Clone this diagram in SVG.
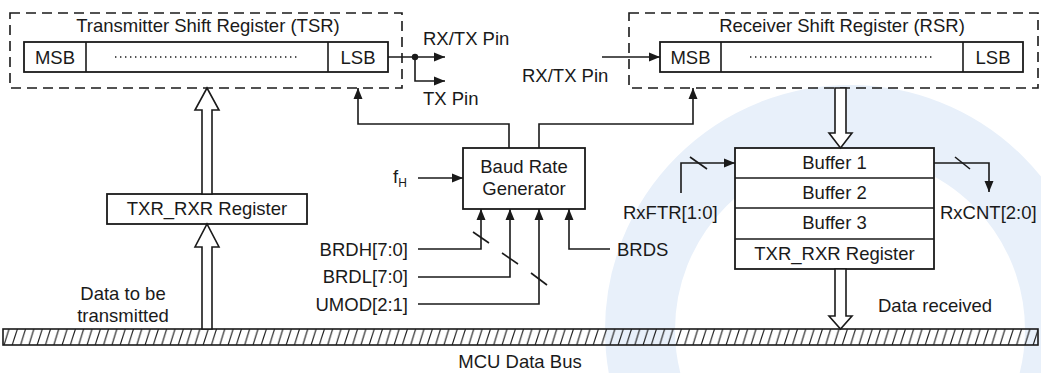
<svg xmlns="http://www.w3.org/2000/svg" width="1041" height="373" viewBox="0 0 1041 373">
<style>
text{font-family:"Liberation Sans",Arial,sans-serif;font-size:18.5px;fill:#1a1a1a}
.m{text-anchor:middle}
.e{text-anchor:end}
.ln{fill:none;stroke:#1a1a1a;stroke-width:1.6}
.box{fill:#fff;stroke:#1a1a1a;stroke-width:1.8}
.dash{fill:none;stroke:#1a1a1a;stroke-width:1.6;stroke-dasharray:10 6}
.dots{stroke:#1a1a1a;stroke-width:1.4;stroke-dasharray:1.4 3.6}
.hol{fill:#fff;stroke:#1a1a1a;stroke-width:1.6;stroke-linejoin:miter}
.arr{marker-end:url(#ah)}
.wm{fill:none;stroke:#e8f0fa}
</style>
<defs>
<marker id="ah" markerUnits="userSpaceOnUse" markerWidth="11" markerHeight="10" refX="11" refY="5" orient="auto">
<path d="M0,0.5 L11,5 L0,9.5 z" fill="#1a1a1a"/>
</marker>
<pattern id="hatch" patternUnits="userSpaceOnUse" width="8.3" height="16" x="3" y="329">
<line x1="1" y1="16" x2="6" y2="0" stroke="#1a1a1a" stroke-width="1.1"/>
</pattern>
</defs>
<g id="watermark">
<circle class="wm" cx="850" cy="330" r="210" stroke-width="70"/>
</g>
<g id="tsr">
<rect class="dash" x="10" y="13" width="392" height="75"/>
<text class="m" x="208" y="32">Transmitter Shift Register (TSR)</text>
<rect class="box" x="24" y="42" width="364" height="30"/>
<line class="ln" x1="86" y1="42" x2="86" y2="72"/>
<line class="ln" x1="328" y1="42" x2="328" y2="72"/>
<line class="dots" x1="115" y1="57" x2="298" y2="57"/>
<text class="m" x="55" y="64">MSB</text>
<text class="m" x="358" y="64">LSB</text>
</g>
<g id="rsr">
<rect class="dash" x="629" y="13" width="409" height="75"/>
<text class="m" x="842" y="32">Receiver Shift Register (RSR)</text>
<rect class="box" x="660" y="42" width="363" height="30"/>
<line class="ln" x1="721" y1="42" x2="721" y2="72"/>
<line class="ln" x1="963" y1="42" x2="963" y2="72"/>
<line class="dots" x1="750" y1="57" x2="934" y2="57"/>
<text class="m" x="690.5" y="64">MSB</text>
<text class="m" x="993" y="64">LSB</text>
</g>
<g id="brg">
<rect class="box" x="463" y="148" width="122" height="61"/>
<text class="m" x="524" y="173">Baud Rate</text>
<text class="m" x="524" y="195">Generator</text>
</g>
<g id="txr-left">
<rect class="box" x="107" y="194" width="200" height="30"/>
<text class="m" x="207" y="215">TXR_RXR Register</text>
</g>
<g id="buffers">
<rect class="box" x="735" y="148" width="199" height="121"/>
<line class="ln" x1="735" y1="178" x2="934" y2="178"/>
<line class="ln" x1="735" y1="208" x2="934" y2="208"/>
<line class="ln" x1="735" y1="239" x2="934" y2="239"/>
<text class="m" x="834.5" y="169">Buffer 1</text>
<text class="m" x="834.5" y="199">Buffer 2</text>
<text class="m" x="834.5" y="229">Buffer 3</text>
<text class="m" x="834.5" y="260">TXR_RXR Register</text>
</g>
<g id="bus">
<rect x="3" y="329" width="1035" height="16" fill="url(#hatch)" stroke="#1a1a1a" stroke-width="1.6"/>
<text class="m" x="520" y="368">MCU Data Bus</text>
</g>
<g id="connectors">
<path class="ln arr" d="M388,57 H445"/>
<circle cx="415" cy="57" r="3.2" fill="#1a1a1a"/>
<path class="ln arr" d="M415,57 V81 H445"/>
<path class="ln arr" d="M509,148 V124 H358 V88"/>
<path class="ln arr" d="M539,148 V124 H693 V88"/>
<path class="ln arr" d="M602,57 H660"/>
<path class="ln arr" d="M418,178 H463"/>
<path class="ln arr" d="M418,249 H481 V209"/>
<path class="ln arr" d="M418,277 H510 V209"/>
<path class="ln arr" d="M418,304 H539 V209"/>
<path class="ln arr" d="M610,249 H569 V209"/>
<path class="ln arr" d="M681,193 V163 H735"/>
<path class="ln arr" d="M934,163 H989 V192"/>
<line class="ln" x1="473" y1="232" x2="489" y2="243"/>
<line class="ln" x1="502" y1="253" x2="518" y2="264"/>
<line class="ln" x1="531" y1="273" x2="547" y2="285"/>
<line class="ln" x1="690" y1="157" x2="707" y2="169"/>
<line class="ln" x1="955" y1="157" x2="970" y2="169"/>
<polygon class="hol" points="202,194 202,110 195,110 207,88 219,110 212,110 212,194"/>
<polygon class="hol" points="202,329 202,247 195,247 207,224 219,247 212,247 212,329"/>
<polygon class="hol" points="835,88 835,133 829,133 840.5,148 852,133 846,133 846,88"/>
<polygon class="hol" points="835,269 835,316 829,316 840.5,329 852,316 846,316 846,269"/>
</g>
<g id="labels">
<text x="423" y="45">RX/TX Pin</text>
<text x="423" y="105">TX Pin</text>
<text x="522" y="82">RX/TX Pin</text>
<text x="393" y="183">f<tspan font-size="12" dy="4">H</tspan></text>
<text class="e" x="408" y="256">BRDH[7:0]</text>
<text class="e" x="408" y="283">BRDL[7:0]</text>
<text class="e" x="408" y="311">UMOD[2:1]</text>
<text x="617" y="256">BRDS</text>
<text x="623" y="219">RxFTR[1:0]</text>
<text x="940" y="219">RxCNT[2:0]</text>
<text x="878" y="312">Data received</text>
<text class="m" x="123" y="300">Data to be</text>
<text class="m" x="123" y="322">transmitted</text>
</g>
</svg>
